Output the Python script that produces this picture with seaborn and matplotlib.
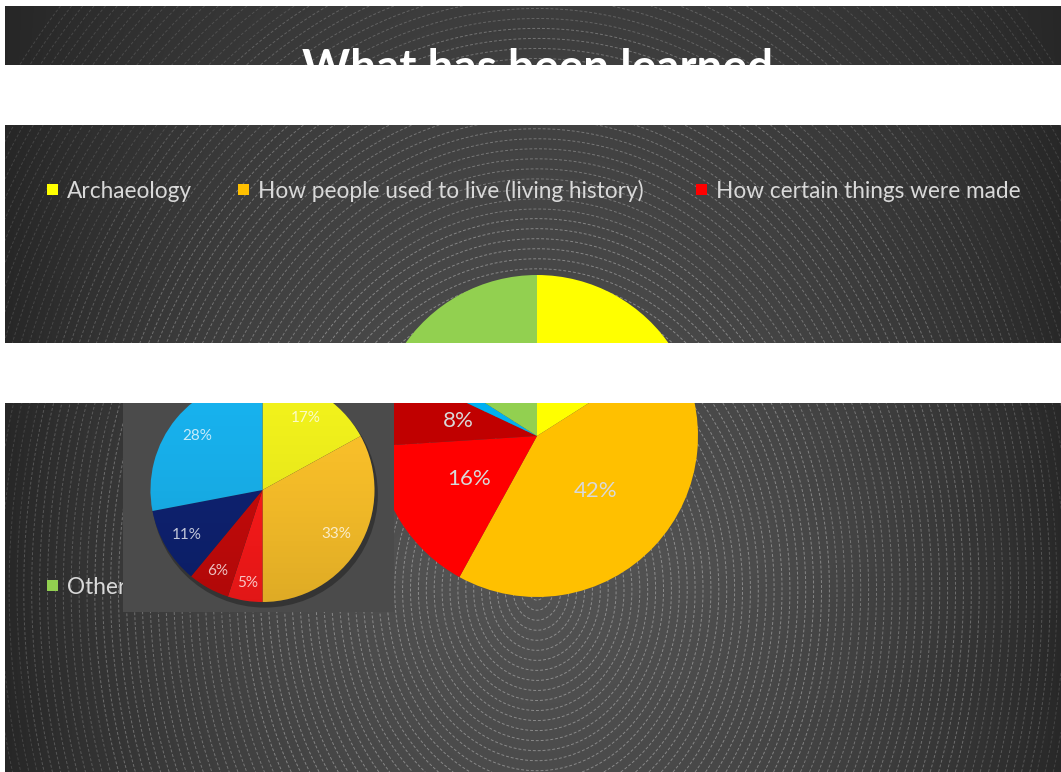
import numpy as np
import matplotlib
matplotlib.use("Agg")
import matplotlib.pyplot as plt
from matplotlib.patches import Rectangle, Circle
import seaborn as sns

# Survey answers: what visitors say they have learned (percent of responses)
categories = [
    "Archaeology",
    "How people used to live (living history)",
    "How certain things were made",
    "Local history",
    "Nothing",
    "Other",
]
shares = [16, 42, 16, 8, 2, 16]
slice_colors = ["#FFFF00", "#FFC000", "#FF0000", "#C00000", "#00B0F0", "#92D050"]

# Earlier survey shown as a picture next to the main chart
inset_shares = [17, 33, 5, 6, 11, 28]
inset_colors = ["#F2F21C", "#FCC22A", "#FF1A1A", "#C80A0A", "#0E2272", "#18B2EE"]

title_text = "What has been learned"

W, H = 1061, 772
sns.set_theme(style="white")
plt.rcParams["font.family"] = ["Lato", "DejaVu Sans"]

fig = plt.figure(figsize=(W / 100, H / 100), dpi=100, facecolor="white")


def px_axes(x0, y0, x1, y1, z):
    """Axes placed by pixel box (origin top-left)."""
    return fig.add_axes([x0 / W, 1 - y1 / H, (x1 - x0) / W, (y1 - y0) / H], zorder=z)


# ---- slide background: dark shading with dashed concentric ellipses ----
bg = px_axes(0, 0, W, H, 0)
sx0, sy0 = 5, 6
ex, ey, k = 537, 590, 1.27
xs = np.arange(sx0, W + 1)
ys = np.arange(sy0, H + 1)
X, Y = np.meshgrid(xs, ys)
rho = np.hypot(X - ex, (Y - ey) / k)
g = np.clip(1 - (np.abs(X - ex) / 540) ** 2, 0, 1)
h = 1 - 0.5 * np.abs(Y - 560) / 554
shade = (0x26 + 46 * g * h) / 255
bg.imshow(np.dstack([shade] * 3), extent=(sx0, W, H, sy0), aspect="auto",
          interpolation="bilinear", zorder=0)
for lo, hi, a in [(8, 300, 0.34), (300, 450, 0.28), (450, 520, 0.2), (520, 670, 0.13)]:
    cs = bg.contour(X, Y, rho, levels=np.arange(lo, hi, 7.9), colors="white",
                    linewidths=0.7, alpha=a, zorder=1)
    cs.set_linestyle((0, (3, 2)))
bg.set_xlim(0, W)
bg.set_ylim(H, 0)
bg.axis("off")

# title
bg.text(537, 82, title_text, ha="center", va="baseline", fontsize=33,
        fontweight="bold", color="white", zorder=4)

# legend (rows laid out as on the slide)
legend_slots = [(47, 190), (238, 190), (696, 190), (47, 388), (238, 388), (47, 586)]
for (lx, ly), name, col in zip(legend_slots, categories, slice_colors):
    bg.add_patch(Rectangle((lx, ly - 6), 11, 11, facecolor=col, edgecolor="none", zorder=4))
    bg.text(lx + 20, ly + 8, name, ha="left", va="baseline", fontsize=16.3,
            color="#D9D9D9", zorder=4)

# ---- main pie ----
cx, cy, R = 537, 436, 161
ax = px_axes(cx - R, cy - R, cx + R, cy + R, 1)
wedges, _, autotexts = ax.pie(
    shares, colors=slice_colors, startangle=90, counterclock=False,
    autopct=lambda p: f"{p:.0f}%", pctdistance=0.5,
    wedgeprops=dict(linewidth=0),
    textprops=dict(color="#D9D9D9", fontsize=16),
)
ax.set_xlim(-1, 1)
ax.set_ylim(-1, 1)
ax.axis("off")

# ---- inset picture of the earlier pie ----
ix0, iy0, ix1, iy1 = 123, 360, 394, 612
icx, icy, ir = 262.5, 490, 112
ins = px_axes(ix0, iy0, ix1, iy1, 2)
ins.add_patch(Circle((0.02, -0.04), 1.01, facecolor="black", edgecolor="none",
                     alpha=0.3, zorder=0))
iw, _ = ins.pie(inset_shares, colors=inset_colors, startangle=90, counterclock=False,
                radius=1, wedgeprops=dict(linewidth=0))
grad = np.linspace(0, 1, 256)[:, None]
rgba = np.zeros((256, 1, 4))
rgba[..., 3] = 0.12 * grad ** 1.5
im = ins.imshow(rgba, extent=(-1, 1, -1, 1), origin="upper", aspect="auto", zorder=3)
im.set_clip_path(Circle((0, 0), 1, transform=ins.transData))
label_r = [0.75, 0.77, 0.84, 0.83, 0.79, 0.76]
for w, v, r in zip(iw, inset_shares, label_r):
    a = np.deg2rad((w.theta1 + w.theta2) / 2)
    ins.text(r * np.cos(a), r * np.sin(a), f"{v}%", ha="center", va="center",
             fontsize=11, color="white", alpha=0.75, zorder=4)
ins.set_aspect("auto")
ins.set_xlim((ix0 - icx) / ir, (ix1 - icx) / ir)
ins.set_ylim(-(iy1 - icy) / ir, (icy - iy0) / ir)
ins.set_frame_on(True)
ins.set_facecolor("#4B4B4B")
for s in ins.spines.values():
    s.set_visible(False)
ins.set_xticks([])
ins.set_yticks([])

# ---- white strips across the slide ----
top = px_axes(0, 0, W, H, 5)
top.set_xlim(0, W)
top.set_ylim(H, 0)
top.axis("off")
for y0, y1 in [(65, 125), (343, 403)]:
    top.add_patch(Rectangle((0, y0), W, y1 - y0, facecolor="white", edgecolor="none"))

fig.savefig("out.png", dpi=100, facecolor="white")
